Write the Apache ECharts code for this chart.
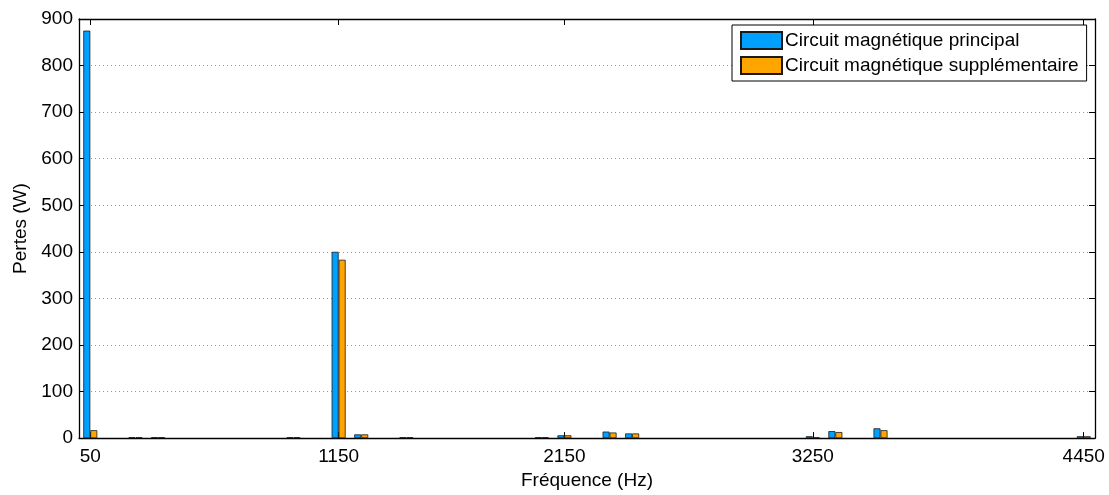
<!DOCTYPE html>
<html>
<head>
<meta charset="utf-8">
<script src="https://cdn.jsdelivr.net/npm/echarts@6/dist/echarts.min.js"></script>
<style>
html,body{margin:0;padding:0;background:#fff;}
#chart{width:1109px;height:495px;}
</style>
</head>
<body>
<div id="chart"></div>
<script>
// Harmonic frequencies (Hz)
const frequencies = [50, 250, 350, 950, 1150, 1250, 1450, 2050, 2150, 2350, 2450, 3250, 3350, 3550, 4450];
// Losses (W)
const principal = [875, 2, 2, 2, 400, 8, 2, 2, 6, 14, 10, 4, 15, 21, 4];
const supplementaire = [17, 2, 2, 2, 383, 8, 2, 2, 6, 12, 10, 1.5, 13, 17, 4];
const xTicks = [50, 1150, 2150, 3250, 4450];
const seriesNames = ['Circuit magnétique principal', 'Circuit magnétique supplémentaire'];

const FONT = 'Liberation Sans, Arial, Helvetica, sans-serif';
const chart = echarts.init(document.getElementById('chart'), null, {renderer: 'canvas'});

const pair = (vals) => frequencies.map((f, i) => [f, vals[i]]);

const axisLine = {show: true, onZero: false, lineStyle: {color: '#000', width: 1.3}};

chart.setOption({
  animation: false,
  backgroundColor: '#fff',
  textStyle: {fontFamily: FONT},
  grid: {left: 79, right: 14, top: 19, bottom: 51, containLabel: false},
  legend: {
    orient: 'vertical',
    left: 732, top: 25,
    padding: [6, 8, 6, 8],
    itemGap: 6,
    itemWidth: 41, itemHeight: 17,
    backgroundColor: '#fff',
    borderColor: '#000', borderWidth: 1,
    icon: 'rect',
    textStyle: {fontFamily: FONT, fontSize: 19, color: '#000', padding: [0, 0, 0, -2]},
    data: seriesNames
  },
  xAxis: [{
    type: 'value', min: 0, max: 4500, position: 'bottom',
    name: 'Fréquence (Hz)', nameLocation: 'middle', nameGap: 30,
    nameTextStyle: {fontFamily: FONT, fontSize: 19, color: '#000'},
    axisLine: axisLine,
    axisTick: {show: true, inside: true, length: 6, customValues: xTicks, lineStyle: {color: '#000'}},
    axisLabel: {show: true, customValues: xTicks, fontSize: 19, color: '#000', margin: 9, fontFamily: FONT,
      formatter: (v) => String(v)},
    splitLine: {show: false}
  }, {
    type: 'value', min: 0, max: 4500, position: 'top',
    axisLine: axisLine,
    axisTick: {show: true, inside: true, length: 6, customValues: xTicks, lineStyle: {color: '#000'}},
    axisLabel: {show: false},
    splitLine: {show: false}
  }],
  yAxis: [{
    type: 'value', min: 0, max: 900, interval: 100, position: 'left',
    name: 'Pertes (W)', nameLocation: 'middle', nameGap: 46, nameRotate: 90,
    nameTextStyle: {fontFamily: FONT, fontSize: 19, color: '#000'},
    axisLine: axisLine,
    axisTick: {show: true, inside: true, length: 6, lineStyle: {color: '#000'}},
    axisLabel: {fontSize: 19, color: '#000', margin: 6, fontFamily: FONT},
    splitLine: {show: true, showMaxLine: false, showMinLine: false, lineStyle: {color: '#999', type: [1, 3], width: 1}}
  }, {
    type: 'value', min: 0, max: 900, interval: 100, position: 'right',
    axisLine: axisLine,
    axisTick: {show: true, inside: true, length: 6, lineStyle: {color: '#000'}},
    axisLabel: {show: false},
    splitLine: {show: false}
  }],
  series: [{
    name: seriesNames[0], type: 'bar', xAxisIndex: 0, yAxisIndex: 0,
    barWidth: 7, barGap: '0%',
    itemStyle: {color: '#00A0FF', borderColor: '#1a1a1a', borderWidth: 0.8},
    data: pair(principal)
  }, {
    name: seriesNames[1], type: 'bar', xAxisIndex: 0, yAxisIndex: 0,
    barWidth: 7, barGap: '0%',
    itemStyle: {color: '#FFA500', borderColor: '#1a1a1a', borderWidth: 0.8},
    data: pair(supplementaire)
  }]
});
</script>
</body>
</html>
